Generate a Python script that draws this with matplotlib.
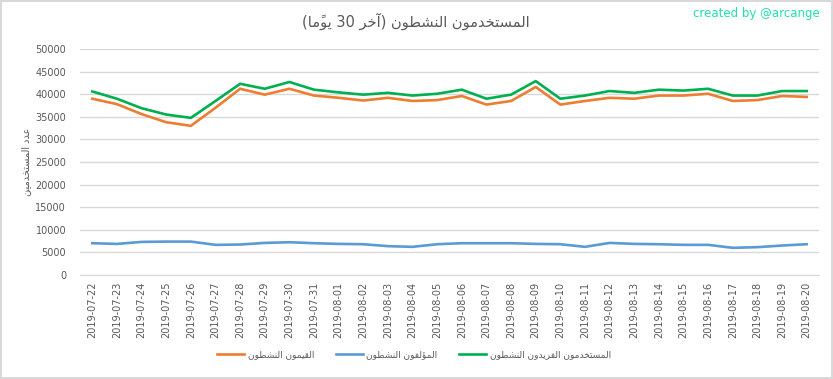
import matplotlib
matplotlib.use("Agg")
import matplotlib.pyplot as plt
import numpy as np

# ---------------- data ----------------
dates = ["2019-07-22", "2019-07-23", "2019-07-24", "2019-07-25", "2019-07-26",
         "2019-07-27", "2019-07-28", "2019-07-29", "2019-07-30", "2019-07-31",
         "2019-08-01", "2019-08-02", "2019-08-03", "2019-08-04", "2019-08-05",
         "2019-08-06", "2019-08-07", "2019-08-08", "2019-08-09", "2019-08-10",
         "2019-08-11", "2019-08-12", "2019-08-13", "2019-08-14", "2019-08-15",
         "2019-08-16", "2019-08-17", "2019-08-18", "2019-08-19", "2019-08-20"]

curators = [39000, 37800, 35600, 33800, 33000, 37000, 41200, 39900, 41200, 39700,
            39200, 38600, 39200, 38500, 38700, 39600, 37700, 38500, 41600, 37700,
            38500, 39200, 39000, 39700, 39700, 40100, 38500, 38700, 39600, 39400]

authors = [7030, 6880, 7320, 7390, 7390, 6670, 6740, 7100, 7250, 7030,
           6880, 6810, 6380, 6230, 6810, 7030, 7030, 7030, 6880, 6810,
           6230, 7100, 6880, 6810, 6670, 6670, 6010, 6160, 6520, 6810]

unique_users = [40600, 39000, 36900, 35500, 34760, 38500, 42300, 41200, 42700, 41000,
                40400, 39900, 40300, 39700, 40100, 41000, 39000, 39900, 42900, 39000,
                39700, 40700, 40300, 41000, 40800, 41200, 39700, 39700, 40700, 40700]

yticks = [0, 5000, 10000, 15000, 20000, 25000, 30000, 35000, 40000, 45000, 50000]

title_text = "المستخدمون النشطون (آخر 30 يومًا)"
ylabel_text = "عدد المستخدمين"
label_curators = "القيمون النشطون"
label_authors = "المؤلفون النشطون"
label_unique = "المستخدمون الفريدون النشطون"
credit_text = "created by @arcange"

# ---------------- minimal Arabic shaping (presentation forms) ----------------
FORMS = {
    "\u0627": ("\uFE8D", "\uFE8E", None, None),
    "\u0622": ("\uFE81", "\uFE82", None, None),
    "\u0623": ("\uFE83", "\uFE84", None, None),
    "\u0624": ("\uFE85", "\uFE86", None, None),
    "\u0625": ("\uFE87", "\uFE88", None, None),
    "\u0628": ("\uFE8F", "\uFE90", "\uFE91", "\uFE92"),
    "\u062A": ("\uFE95", "\uFE96", "\uFE97", "\uFE98"),
    "\u062C": ("\uFE9D", "\uFE9E", "\uFE9F", "\uFEA0"),
    "\u062D": ("\uFEA1", "\uFEA2", "\uFEA3", "\uFEA4"),
    "\u062E": ("\uFEA5", "\uFEA6", "\uFEA7", "\uFEA8"),
    "\u062F": ("\uFEA9", "\uFEAA", None, None),
    "\u0630": ("\uFEAB", "\uFEAC", None, None),
    "\u0631": ("\uFEAD", "\uFEAE", None, None),
    "\u0632": ("\uFEAF", "\uFEB0", None, None),
    "\u0633": ("\uFEB1", "\uFEB2", "\uFEB3", "\uFEB4"),
    "\u0634": ("\uFEB5", "\uFEB6", "\uFEB7", "\uFEB8"),
    "\u0637": ("\uFEC1", "\uFEC2", "\uFEC3", "\uFEC4"),
    "\u0639": ("\uFEC9", "\uFECA", "\uFECB", "\uFECC"),
    "\u0641": ("\uFED1", "\uFED2", "\uFED3", "\uFED4"),
    "\u0642": ("\uFED5", "\uFED6", "\uFED7", "\uFED8"),
    "\u0643": ("\uFED9", "\uFEDA", "\uFEDB", "\uFEDC"),
    "\u0644": ("\uFEDD", "\uFEDE", "\uFEDF", "\uFEE0"),
    "\u0645": ("\uFEE1", "\uFEE2", "\uFEE3", "\uFEE4"),
    "\u0646": ("\uFEE5", "\uFEE6", "\uFEE7", "\uFEE8"),
    "\u0647": ("\uFEE9", "\uFEEA", "\uFEEB", "\uFEEC"),
    "\u0648": ("\uFEED", "\uFEEE", None, None),
    "\u064A": ("\uFEF1", "\uFEF2", "\uFEF3", "\uFEF4"),
}


def is_mark(c):
    return "\u064B" <= c <= "\u065F"


def shape(s):
    chars = list(s)
    n = len(chars)
    out = []
    for i, c in enumerate(chars):
        if c not in FORMS:
            out.append(c)
            continue
        j = i - 1
        while j >= 0 and is_mark(chars[j]):
            j -= 1
        prev = chars[j] if j >= 0 else None
        k = i + 1
        while k < n and is_mark(chars[k]):
            k += 1
        nxt = chars[k] if k < n else None
        jp = prev in FORMS and FORMS[prev][2] is not None
        jn = FORMS[c][2] is not None and nxt in FORMS
        iso, fin, ini, med = FORMS[c]
        if jp and jn:
            out.append(med)
        elif jp:
            out.append(fin)
        elif jn:
            out.append(ini)
        else:
            out.append(iso)
    return out


def visual(s):
    shaped = shape(s)
    clusters = []
    for c in shaped:
        if is_mark(c) and clusters:
            clusters[-1] += c
        else:
            clusters.append(c)
    clusters = clusters[::-1]
    res = []
    i = 0
    while i < len(clusters):
        if clusters[i].isdigit():
            j = i
            while j < len(clusters) and clusters[j].isdigit():
                j += 1
            res.extend(clusters[i:j][::-1])
            i = j
        else:
            c = clusters[i]
            c = {"(": ")", ")": "("}.get(c, c)
            res.append(c)
            i += 1
    return "".join(res)


# ---------------- figure ----------------
plt.rcParams["font.family"] = ["DejaVu Sans"]
W, H = 833, 379
fig = plt.figure(figsize=(W / 100, H / 100), dpi=100)
fig.patch.set_facecolor("white")
fig.patch.set_edgecolor("#D9D9D9")
fig.patch.set_linewidth(1.5)

ax = fig.add_axes([80 / W, 1 - 275 / H, (819 - 80) / W, (275 - 49) / H])
x = np.arange(len(dates))

ax.plot(x, curators, color="#ED7D31", lw=1.9, label=visual(label_curators))
ax.plot(x, authors, color="#5B9BD5", lw=1.9, label=visual(label_authors))
ax.plot(x, unique_users, color="#00B050", lw=1.9, label=visual(label_unique))

ax.set_xlim(-0.5, len(dates) - 0.5)
ax.set_ylim(0, 50000)
ax.set_yticks(yticks)
ax.set_yticklabels([str(v) for v in yticks])
ax.set_xticks(x)
ax.set_xticklabels(dates, rotation=90)
ax.tick_params(axis="y", length=0, pad=10, labelsize=7, labelcolor="#595959")
ax.tick_params(axis="x", length=0, pad=5, labelsize=7, labelcolor="#595959")
ax.grid(axis="y", color="#D9D9D9", lw=1)
ax.set_axisbelow(True)
for sp in ["top", "right", "left"]:
    ax.spines[sp].set_visible(False)
ax.spines["bottom"].set_color("#D9D9D9")

fig.text(416 / W, 1 - 21 / H, visual(title_text), ha="center", va="center",
         fontsize=10.5, color="#595959")
fig.text(820 / W, 1 - 13 / H, credit_text, ha="right", va="center",
         fontsize=8.5, color="#1EE3A8")
fig.text(26 / W, 1 - 162 / H, visual(ylabel_text), ha="center", va="center",
         rotation=90, fontsize=7, color="#595959")

leg = fig.legend(loc="center", bbox_to_anchor=(414 / W, 1 - 355 / H), ncol=3,
                 frameon=False, fontsize=6.5, handlelength=3.0, columnspacing=2.4,
                 handletextpad=0.4)
for t in leg.get_texts():
    t.set_color("#595959")

fig.savefig("out.png", dpi=100)
